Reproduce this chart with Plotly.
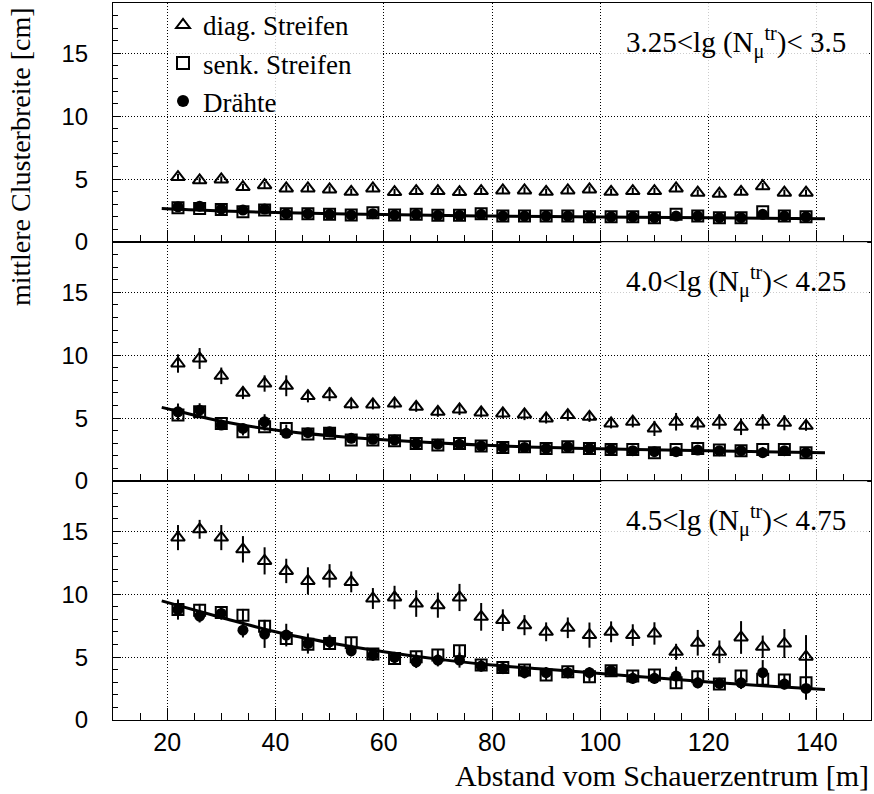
import plotly.graph_objects as go
from plotly.subplots import make_subplots

# Bin centres: distance from the shower core [m]
distance = [22, 26, 30, 34, 38, 42, 46, 50, 54, 58, 62, 66, 70, 74, 78,
            82, 86, 90, 94, 98, 102, 106, 110, 114, 118, 122, 126, 130, 134, 138]

# Panel 1: 3.25 < lg(N_mu^tr) < 3.5
p1_diag = [5.16, 4.90, 4.97, 4.37, 4.52, 4.26, 4.26, 4.18, 3.99, 4.26, 3.97, 4.05, 4.05, 3.97, 4.05,
           4.10, 4.10, 3.99, 4.10, 4.18, 3.99, 4.05, 4.05, 4.26, 3.92, 3.84, 3.99, 4.44, 3.92, 3.92]
p1_diag_err = [0.25] * 30
p1_senk = [2.72, 2.67, 2.59, 2.41, 2.54, 2.25, 2.25, 2.20, 2.14, 2.33, 2.14, 2.20, 2.12, 2.12, 2.25,
           2.06, 2.06, 2.06, 2.06, 2.00, 2.00, 2.00, 1.93, 2.20, 2.06, 1.93, 1.93, 2.41, 2.06, 2.00]
p1_senk_err = [0.15] * 30
p1_draht = [2.80, 2.85, 2.62, 2.54, 2.62, 2.25, 2.25, 2.20, 2.14, 2.25, 2.14, 2.20, 2.12, 2.12, 2.20,
            2.06, 2.06, 2.06, 2.06, 2.00, 2.00, 2.00, 1.93, 2.06, 2.06, 1.93, 1.93, 2.20, 2.06, 2.00]
p1_draht_err = [0.15] * 30
p1_fit_x = [19, 30, 40, 60, 80, 100, 120, 141.5]
p1_fit_y = [2.67, 2.47, 2.35, 2.18, 2.06, 1.99, 1.93, 1.85]

# Panel 2: 4.0 < lg(N_mu^tr) < 4.25
p2_diag = [9.34, 9.74, 8.36, 7.01, 7.75, 7.57, 6.75, 6.90, 6.11, 6.09, 6.16, 5.90, 5.50, 5.69, 5.45,
           5.37, 5.29, 4.97, 5.24, 5.10, 4.58, 4.71, 4.18, 4.71, 4.58, 4.71, 4.31, 4.71, 4.63, 4.39]
p2_diag_err = [0.73, 0.83, 0.66, 0.50, 0.65, 0.83, 0.50, 0.55, 0.40, 0.40, 0.40, 0.40, 0.40, 0.45, 0.40,
               0.40, 0.45, 0.40, 0.45, 0.40, 0.40, 0.45, 0.60, 0.70, 0.50, 0.60, 0.66, 0.60, 0.60, 0.40]
p2_senk = [5.24, 5.50, 4.58, 3.92, 4.31, 4.18, 3.73, 3.79, 3.25, 3.25, 3.20, 2.99, 2.86, 2.99, 2.78,
           2.67, 2.72, 2.59, 2.72, 2.59, 2.51, 2.51, 2.25, 2.51, 2.59, 2.46, 2.41, 2.51, 2.51, 2.25]
p2_senk_err = [0.4, 0.4, 0.3, 0.3, 0.3, 0.3, 0.25, 0.25, 0.25, 0.25, 0.25, 0.2, 0.2, 0.2, 0.2,
               0.2, 0.2, 0.2, 0.2, 0.2, 0.2, 0.2, 0.2, 0.2, 0.2, 0.2, 0.2, 0.2, 0.2, 0.2]
p2_draht = [5.50, 5.63, 4.45, 4.18, 4.71, 3.79, 3.84, 3.92, 3.39, 3.31, 3.25, 2.99, 2.93, 2.93, 2.78,
            2.67, 2.67, 2.59, 2.72, 2.59, 2.51, 2.41, 2.33, 2.33, 2.46, 2.41, 2.41, 2.25, 2.41, 2.25]
p2_draht_err = [0.66, 0.55, 0.35, 0.35, 0.60, 0.30, 0.30, 0.30, 0.25, 0.25, 0.25, 0.2, 0.2, 0.2, 0.2,
                0.2, 0.2, 0.2, 0.2, 0.2, 0.2, 0.2, 0.2, 0.2, 0.2, 0.2, 0.2, 0.2, 0.2, 0.2]
p2_fit_x = [19, 22, 30, 40, 50, 60, 80, 100, 120, 141.5]
p2_fit_y = [5.85, 5.55, 4.75, 4.05, 3.60, 3.28, 2.82, 2.56, 2.40, 2.25]

# Panel 3: 4.5 < lg(N_mu^tr) < 4.75
p3_diag = [14.50, 15.16, 14.50, 13.57, 12.65, 11.85, 11.06, 11.46, 10.98, 9.66, 9.74, 9.26, 9.13, 9.74, 8.20,
           7.94, 7.54, 7.01, 7.33, 6.75, 7.01, 6.75, 6.88, 5.42, 6.14, 5.42, 6.56, 5.82, 6.08, 5.03]
p3_diag_err = [1.00, 0.75, 1.00, 1.05, 1.08, 0.97, 1.08, 0.93, 0.83, 0.83, 0.93, 1.06, 1.00, 1.08, 1.10,
               0.86, 0.80, 0.75, 0.82, 1.00, 0.83, 0.86, 0.89, 0.64, 1.02, 0.90, 1.30, 0.89, 1.15, 1.72]
p3_senk = [8.78, 8.73, 8.55, 8.33, 7.46, 6.48, 6.03, 6.08, 6.14, 5.24, 4.89, 5.03, 5.16, 5.50, 4.37,
           4.18, 3.97, 3.57, 3.84, 3.44, 3.92, 3.49, 3.57, 2.96, 3.44, 2.86, 3.49, 3.23, 3.17, 2.96]
p3_senk_err = [0.6, 0.5, 0.5, 0.5, 0.5, 0.45, 0.45, 0.45, 0.4, 0.4, 0.4, 0.4, 0.4, 0.45, 0.4,
               0.4, 0.4, 0.4, 0.4, 0.4, 0.4, 0.4, 0.4, 0.45, 0.4, 0.4, 0.45, 0.45, 0.45, 0.5]
p3_draht = [8.78, 8.25, 8.47, 7.14, 6.83, 6.75, 6.08, 6.22, 5.50, 5.16, 4.97, 4.63, 4.76, 4.76, 4.29,
            4.10, 3.76, 3.76, 3.76, 3.76, 3.92, 3.31, 3.31, 3.49, 2.96, 2.91, 2.96, 3.76, 2.86, 2.51]
p3_draht_err = [0.80, 0.50, 0.50, 0.58, 1.10, 0.90, 0.80, 0.55, 0.45, 0.45, 0.45, 0.5, 0.5, 0.6, 0.45,
                0.45, 0.45, 0.45, 0.45, 0.45, 0.45, 0.45, 0.45, 0.75, 0.45, 0.45, 0.5, 1.00, 0.45, 0.9]
p3_fit_x = [19, 30, 40, 50, 60, 70, 80, 90, 100, 110, 120, 130, 141.5]
p3_fit_y = [9.47, 8.15, 7.01, 6.14, 5.42, 4.84, 4.37, 4.03, 3.70, 3.35, 3.02, 2.72, 2.43]

panel_labels = ["3.25<lg (N<sub>μ</sub><sup>tr</sup>)< 3.5",
                "4.0<lg (N<sub>μ</sub><sup>tr</sup>)< 4.25",
                "4.5<lg (N<sub>μ</sub><sup>tr</sup>)< 4.75"]
series_names = ["diag. Streifen", "senk. Streifen", "Drähte"]

panels = [
    (p1_diag, p1_diag_err, p1_senk, p1_senk_err, p1_draht, p1_draht_err, p1_fit_x, p1_fit_y),
    (p2_diag, p2_diag_err, p2_senk, p2_senk_err, p2_draht, p2_draht_err, p2_fit_x, p2_fit_y),
    (p3_diag, p3_diag_err, p3_senk, p3_senk_err, p3_draht, p3_draht_err, p3_fit_x, p3_fit_y),
]

SERIF = "Liberation Serif, Times New Roman, serif"
SANS = "Liberation Sans, Arial, sans-serif"
SANS_NARROW = "Liberation Sans Narrow, Arial Narrow, Liberation Sans, sans-serif"

marker_styles = [
    dict(symbol="triangle-up-open", size=12, color="black", line=dict(color="black", width=2)),
    dict(symbol="square-open", size=11, color="black", line=dict(color="black", width=2)),
    dict(symbol="circle", size=11, color="black", line=dict(color="black", width=0)),
]

fig = make_subplots(rows=3, cols=1, vertical_spacing=0)

for row, (diag, diag_err, senk, senk_err, draht, draht_err, fx, fy) in enumerate(panels, start=1):
    for k, (vals, errs) in enumerate([(diag, diag_err), (senk, senk_err), (draht, draht_err)]):
        fig.add_trace(go.Scatter(
            x=distance, y=vals, mode="markers", name=series_names[k],
            marker=marker_styles[k],
            error_y=dict(type="data", array=errs, visible=True, thickness=2, width=0, color="black"),
            showlegend=(row == 1), legendgroup=f"g{k}",
        ), row=row, col=1)
    fig.add_trace(go.Scatter(
        x=fx, y=fy, mode="lines", line=dict(color="black", width=3, shape="spline"),
        showlegend=False, hoverinfo="skip",
    ), row=row, col=1)

axis_common = dict(showline=True, mirror=True, linecolor="black", linewidth=1,
                   showgrid=True, gridcolor="black", griddash="1px,2px", gridwidth=1,
                   zeroline=False, ticks="inside", tickcolor="black")

for row in range(1, 4):
    fig.update_xaxes(range=[10, 150], tick0=0, dtick=20, ticklen=12, tickwidth=1,
                     minor=dict(dtick=5, ticks="inside", ticklen=7, tickcolor="black", showgrid=False),
                     showticklabels=(row == 3),
                     tickfont=dict(family=SANS, size=25, color="black"),
                     row=row, col=1, **axis_common)
    fig.update_yaxes(range=[0, 19], tick0=0, dtick=5, ticklen=8, tickwidth=1,
                     minor=dict(dtick=1, ticks="inside", ticklen=5, tickcolor="black", showgrid=False),
                     tickfont=dict(family=SANS_NARROW, size=24, color="black"),
                     ticklabelstandoff=19,
                     row=row, col=1, **axis_common)

# Semi-transparent boxes behind the legend and panel labels
shapes = []
yrefs = ["y", "y2", "y3"]
xrefs = ["x", "x2", "x3"]
shapes.append(dict(type="rect", xref="x", yref="y", x0=20.2, x1=59.8, y0=10.15, y1=19,
                   fillcolor="rgba(255,255,255,0.8)", line=dict(width=0), layer="between"))
for i in range(3):
    shapes.append(dict(type="rect", xref=xrefs[i], yref=yrefs[i], x0=100.2, x1=149.3, y0=10.15, y1=19,
                       fillcolor="rgba(255,255,255,0.8)", line=dict(width=0), layer="between"))

annotations = []
for i, label in enumerate(panel_labels):
    annotations.append(dict(text=label, xref="paper", yref=yrefs[i], x=0.9697, y=15.85,
                            xanchor="right", yanchor="middle", showarrow=False,
                            font=dict(family=SERIF, size=29, color="black")))
annotations.append(dict(text="Abstand vom Schauerzentrum [m]", xref="paper", yref="paper",
                        x=1.0, y=-0.1029, xanchor="right", yanchor="bottom", showarrow=False,
                        font=dict(family=SERIF, size=30, color="black")))
annotations.append(dict(text="mittlere Clusterbreite [cm]", xref="paper", yref="paper",
                        x=-0.122, y=1.0, xanchor="center", yanchor="top", yshift=-2,
                        textangle=-90, showarrow=False,
                        font=dict(family=SERIF, size=28, color="black")))

fig.update_layout(
    width=874, height=794,
    margin=dict(l=113, r=3, t=1, b=74),
    paper_bgcolor="white", plot_bgcolor="white",
    shapes=shapes, annotations=annotations,
    legend=dict(x=0.066, y=1.003, xanchor="left", yanchor="top",
                bgcolor="rgba(0,0,0,0)", borderwidth=0, itemsizing="constant",
                font=dict(family=SERIF, size=27, color="black"), tracegroupgap=0),
    showlegend=True,
)

fig.write_html("out.html")
